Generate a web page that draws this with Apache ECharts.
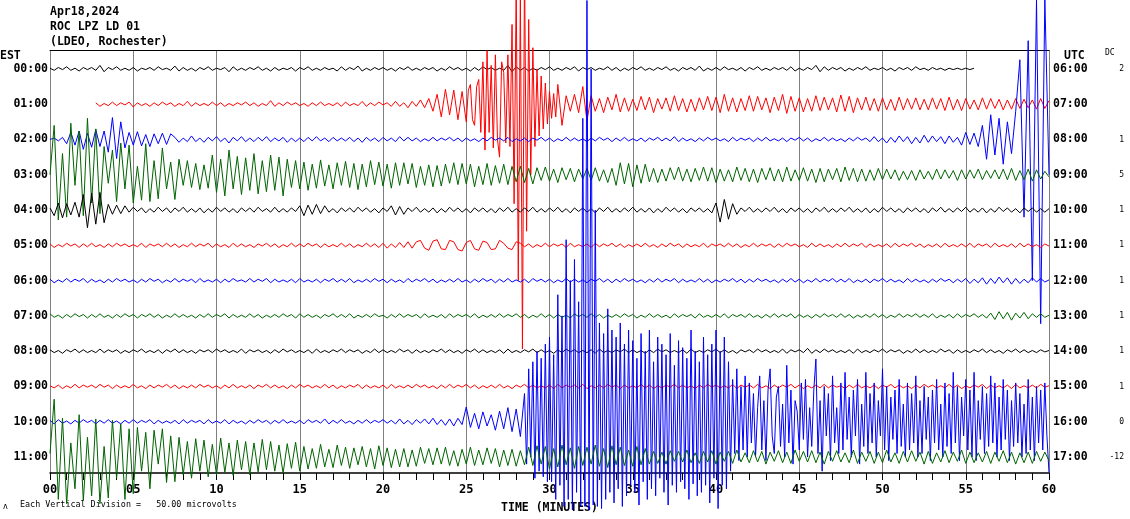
<!DOCTYPE html>
<html><head><meta charset="utf-8">
<script src="https://cdn.jsdelivr.net/npm/echarts@6/dist/echarts.min.js"></script>
<style>html,body{margin:0;padding:0;background:#fff}#c{width:1130px;height:519px}</style>
</head><body><div id="c"></div>
<script>
// ---------------- data ----------------
const titleLines = ["Apr18,2024", "ROC LPZ LD 01", "(LDEO, Rochester)"];
const estLabels = ["00:00","01:00","02:00","03:00","04:00","05:00","06:00","07:00","08:00","09:00","10:00","11:00"];
const utcLabels = ["06:00","07:00","08:00","09:00","10:00","11:00","12:00","13:00","14:00","15:00","16:00","17:00"];
const dcValues = ["2","","1","5","1","1","1","1","1","1","0","-12"];
const minuteLabels = ["00","05","10","15","20","25","30","35","40","45","50","55","60"];
const DIVISION = 50;        // microvolts per vertical division (row spacing)

// amplitudes in microvolts; each segment: [start minute, minutes per sample, samples]
const row00 = [1,-2,2,-1,3,-2,1,-3,2,-1, 2,-2,5,-4,2,-1,3,-2,1,-2, 2,-3,1,-1,2,-2,3,-1,1,-2, 4,-3,2,-2,1,-3,2,-1,3,-2, 1,-1,2,-4,3,-2,1,-2,2,-1, 3,-2,1,-3,2,-2,1,-1,2,-3, 2,-1,3,-2,1,-2,2,-1,1,-3, 3,-2,2,-1,4,-3,1,-2,2,-1, 2,-2,1,-3,2,-1,3,-2,1,-2, 2,-1,2,-3,1,-2,3,-1,2,-2, 1,-3,2,-2,3,-1,2,-2,1,-2, 5,-4,3,-2,2,-3,1,-2,2,-1, 3,-2,1,-2,2,-1,3,-3,2,-1, 2,-2,1,-1,3,-2,2,-3,1,-2, 2,-1,3,-2,1,-2,2,-1,3,-2, 1,-3,2,-1,2,-2,4,-3,1,-2, 2,-2,3,-1,1,-2,2,-3,2,-1, 3,-2,1,-2,2,-1,2,-2,3,-3, 1,-2,2,-1,5,-4,3,-2,2,-1, 2,-3,1,-2,2,-1,3,-2,1,-1, 2,-2,1,-3,2,-1,2,-2,3,-1, 1,-2,2,-1,1,-2,1,-1,1,-1, 1,-1,1];
const row01a = [2,-3,1,-2,3,-2,2,-1,3,-4, 2,-2,1,-3,2,-2,3,-1,2,-3, 1,-2,4,-3,2,-2,1,-2,3,-2, 2,-3,1,-2,2,-1,3,-2,2,-3, 1,-2,5,-3,2,-2,3,-1,2,-2, 1,-3,2,-2,3,-2,1,-2,2,-3, 3,-2,1,-2,4,-3,2,-2,3,-1, 2,-3,4,-3,2,-5,4,-3,
  6,-5,8,-10,14,-18,21,-15,20,-22,18];
const row01b = [-25,20,28,-22,-30,25,35,-40, 60,-65,76,-40,55,-62,70,-50, -75,60,45,-55,70,-60,113,-141, 170,-250,160,-347,200,-180,120,-100, 80,-60,50,-45,40,-35,30,-28, 18,-20,15,-18];
const row01c = [28,-30,12,-10,14,-12,25,-24,
  12,-10,8,-12,10,-8,14,-11,9,-10, 7,-9,11,-8,10,-12,8,-7,9,-10, 12,-9,8,-11,7,-10,9,-8,11,-9, 10,-12,14,-10,9,-11,8,-9,12,-10, 11,-8,9,-12,10,-9,14,-13,11,-10, 9,-11,8,-10,12,-9,10,-8,9,-11, 13,-10,11,-12,9,-8,10,-9,8,-10, 9,-8,7,-9,10,-8,8,-7,9,-8, 7,-8,9,-7,8,-9,10,-8,7,-9, 8,-7,6,-8,9,-7,8,-6,7,-8, 6,-7,8,-6,7,-5,6,-7,8,-6, 5];
const row02 = [0,2,-2,3, -6,10,-8,12,-14,9,-11,14,-10,12, -18,31,-27,25, -12,10,-8,11,-9,7,-10,8,-6,9,-7,8,
  3,-4,2,-3,5,-3,2,-4,3,-2, 4,-3,2,-5,3,-2,4,-3,2,-3, 3,-2,4,-3,2,-2,3,-4,2,-3, 2,-3,3,-2,4,-2,2,-3,3,-2, 2,-2,3,-3,2,-4,3,-2,2,-3, 3,-2,2,-3,4,-2,3,-2,
  2,-3,1,-2,3,-2,2,-1,3,-2, 2,-3,2,-2,1,-3,2,-2,3,-1, 2,-2,3,-3,1,-2,2,-3,2,-1, 3,-2,2,-3,1,-2,3,-2,2,-2, 1,-3,2,-2,3,-1,2,-3,2,-2, 3,-2,1,-2,2,-3,2,-1,3,-2, 2,-2,4,-3,2,-2,1,-3,2,-2, 3,-1,2,-2,1,-3,3,-2,2,-1, 2,-3,2,-2,3,-2,1,-2,2,-3, 2,-1,3,-2,2,-3,1,-2,3,-2, 2,-2,1,-3,2,-2,3,-1,2,-3, 4,-3,2,-5,3,-4,5,-3,4,-6, 3,-5,6,-4,5,-3,4,-6,5,-4,3,
  -8,10,-7,9,-10, 20,-28,35,-22,30,-35,25,-20,40, 113,-110,140,-200,198,-261,200,-50];
const row03 = [0, 70,-64,30,-60,73,-15,62,-58,80,-40,65,-55, 40,-12,35,-38,45,-20,42,-40,12,-36,44,-38,20,-34,38, -20,18,-35,22,-15,20,-18,16,-21,14,-19,
  28,-25,22,-30,35,-20,26,-28,24,-22,30,-27,20,-24,28,-22,25,-30,22,-18,20,
  -20,18,-22,15,-19,21,-16,14,-20,17,-15,19,-18,16,-21,15,-17,20,-14,18,-16,15,-19,17,
  -15,17,-13,16,-18,12,-15,14,-17,13,-16,15,-12,17,-14,16,-13,15,-17,12,-14,16,-15,13,-12,15,-14,12,
  -10,12,-11,9,-13,10,-8,11, -9,8,-11,10,-7,9,-10,8,-6,9,-8,10,-9,7,-11,9, -15,17,-13,16,-17,14,-12,15,
  -10,9,-11,8,-9,10,-7,11,-9,8, -10,9,-8,11,-9,10,-11,8,-9,7, -10,11,-8,9,-10,8,-11,9,-7,10, -9,8,-10,11,-9,7,-8,10,-9,8, -11,9,-10,8,-7,9,-10,11,-8,9, -10,8,-9,7,-8,9,
  -7,8,-6,7,-8,5,-7,6,-8,7, -6,5,-7,8,-6,7,-5,6,-8,7, -6,7,-5,8,-7,6,-5,7,-6,8, -7,9,-8,6,-7,8,-9,7,-6,5, -3];
const row04 = [3,-8,10,-11,9,-7,11,-10, 22,-25,24,-20,25,-18, 8,-6,7,-5,6,
  -3,4,-2,3,-4,2,-3,4,-2,3, -4,3,-2,4,-3,2,-3,3,-4,2, -3,4,-2,3,-3,2,-4,3,-2,3, -3,4,-2,2,-3,4,-3,2,-3,3, -2,
  6,-8,7,-6,8,-5,6, -3,2,-4,3,-2,3,-3,4,-2,3,-3,2,-4,3,-2, 6,-7,5,-6,
  3,-2,4,-3,2,-3,3,-4,2,-3, 4,-2,3,-3,2,-4,3,-2,3,-3, 2,-4,3,-2,4,-3,2,-3,3,-2, 4,-3,2,-3,3,-2,4,-3,2,-4, 3,-2,3,-3,2,-4,3,-2,4,-3, 2,-3,3,-2,4,-3,2,-3,3,-4, 2,-3,4,-2,3,-3,2,-4,3,-2, 3,-3,2,-4,
  10,-17,15,-13,9,-6,
  3,-2,4,-3,2,-3,3,-2,4,-3, 2,-4,3,-2,3,-3,2,-4,3,-2, 4,-3,2,-3,3,-2,4,-3,2,-3, 3,-4,2,-3,4,-2,3,-3,2,-4, 3,-2,3,-3,2,-4,3,-2,4,-3, 2,-3,3,-2,4,-3,2,-3,3,-4, 2,-3,4,-2,3,-3,2,-4,3,-2, 3,-3,2,-3,2];
const row05 = [2,-3,1,-2,3,-1,2,-3,2,-2, 3,-2,1,-3,2,-2,3,-1,2,-2, 1,-2,3,-3,2,-1,2,-2,3,-2, 2,-3,1,-2,3,-2,2,-1,3,-3, 2,-2,1,-3,3,-2,2,-2,1,-3, 2,-1,3,-2,2,-3,1,-2,3,-2, 2,-2,3,-1,2,-3,2,-2,1,-2, 3,-2,2,-3,1,-2,3,-2,2,-3, 3,-4,2,-3,4,-3,5,-4,
  5,7,-4,-7,6,8,-5,-6,7,5,-6,-8,4,7,-5,-7,6,4,-6,-5,7,3,-4,-6,5,
  3,-2,2,-3,1,-2,3,-2,2,-1, 2,-3,3,-2,1,-2,2,-3,3,-2, 2,-1,3,-2,2,-3,1,-2,2,-2, 3,-2,1,-3,2,-2,3,-1,2,-3, 2,-2,1,-2,3,-3,2,-1,2,-2, 3,-2,2,-3,1,-2,3,-2,2,-1, 2,-3,2,-2,3,-1,2,-2,1,-3, 3,-2,2,-2,1,-3,2,-2,3,-2, 2,-1,3,-3,2,-2,1,-2,2,-3, 3,-2,2,-1,3,-2,2,-3,1,-2, 2,-3,3,-2,1,-2,2,-2,3,-3, 2,-1,2,-3,3,-2,1,-2,2,-3, 3,-2,2,-2,1,-3,2,-1];
const row06 = [2,-3,1,-2,3,-2,2,-1,3,-3, 2,-2,1,-3,2,-2,3,-1,2,-2, 1,-3,2,-2,3,-1,2,-3,1,-2, 3,-2,2,-1,2,-3,3,-2,1,-2, 2,-3,2,-2,3,-1,1,-2,3,-2, 2,-1,3,-3,2,-2,1,-2,2,-3, 3,-2,1,-2,2,-3,2,-1,3,-2, 2,-2,3,-3,1,-2,2,-2,3,-1, 2,-3,2,-2,1,-3,3,-2,2,-1, 3,-2,2,-3,1,-2,2,-2,3,-2, 1,-3,2,-2,3,-1,2,-3,2,-2, 3,-2,1,-2,2,-3,3,-1,2,-2, 2,-3,1,-2,3,-2,2,-2,1,-3, 2,-1,3,-2,2,-3,2,-2,3,-1, 2,-2,1,-3,2,-2,3,-2,2,-1, 3,-3,2,-2,1,-2,3,-2,2,-3, 1,-2,2,-1,3,-2,2,-3,2,-2, 3,-1,2,-2,1,-3,2,-2,3,-2, 2,-3,1,-2,3,-2,2,-1,3,-2, 2,-2,3,-3,1,-2,2,-3,2,-1, 3,-2,2,-2,1,-3,3,-2,2,-2, 1,-3,2,-2,3,-1,2,-3,2,-2, 3,-4,2,-3,4,-5,3,-4,5,-3, 4,-5,3,-4,2,-3,4,-2,3,-2, 1];
const row07 = [3,-2,1,-3,2,-2,3,-1,2,-3, 2,-2,3,-2,1,-3,2,-2,3,-1, 2,-3,2,-1,3,-2,2,-3,1,-2, 3,-2,2,-2,1,-3,2,-2,3,-2, 2,-1,3,-3,2,-2,1,-2,3,-2, 2,-3,1,-2,2,-2,3,-1,2,-3, 3,-2,2,-2,1,-3,2,-1,3,-2, 2,-2,3,-3,1,-2,2,-2,3,-1, 1,-3,2,-2,3,-2,2,-1,2,-3, 3,-2,1,-2,2,-3,3,-2,2,-1, 2,-2,3,-3,1,-2,2,-2,3,-2, 2,-1,3,-2,2,-3,1,-2,3,-2, 2,-3,2,-2,1,-3,3,-1,2,-2, 3,-2,2,-3,1,-2,2,-2,3,-1, 2,-3,1,-2,3,-2,2,-2,1,-3, 3,-2,2,-1,2,-3,3,-2,1,-2, 2,-2,3,-3,2,-1,2,-2,3,-2, 1,-3,2,-2,3,-2,2,-1,3,-3, 2,-2,1,-3,2,-2,3,-1,2,-2, 3,-2,2,-3,1,-2,2,-2,3,-2, 2,-3,1,-2,3,-2,2,-1,3,-2, 2,-2,3,-3,1,-2,2,-3,3,-2, 2,-1,3,-2,2,-3,4,-5,6,-4, 5,-6,4,-3,5,-4,3,-2,3,-2, 1];
const row08 = [2,-2,1,-3,2,-1,3,-2,2,-2, 1,-2,3,-2,2,-1,2,-3,1,-2, 2,-1,3,-2,1,-2,2,-3,2,-1, 3,-2,2,-2,1,-3,2,-1,2,-2, 3,-1,2,-2,1,-2,3,-3,2,-1, 2,-2,1,-3,2,-2,3,-1,2,-2, 1,-2,2,-3,3,-2,1,-2,2,-1, 3,-2,2,-1,2,-3,1,-2,3,-2, 2,-2,1,-2,3,-1,2,-3,2,-2, 1,-2,2,-1,3,-2,2,-2,1,-3, 2,-1,3,-2,2,-2,1,-2,2,-3, 3,-2,1,-2,2,-1,3,-2,2,-2, 1,-3,2,-2,3,-1,2,-2,1,-2, 2,-3,3,-2,1,-2,2,-1,3,-2, 2,-2,1,-3,2,-2,3,-1,2,-2, 1,-2,2,-3,3,-2,1,-2,2,-1, 3,-2,2,-2,1,-3,2,-1,2,-2, 3,-1,2,-2,1,-2,3,-3,2,-1, 2,-2,4,-3,2,-2,3,-1,2,-2, 1,-2,2,-3,3,-2,1,-2,2,-1, 3,-2,2,-1,2,-3,1,-2,3,-2, 2,-2,1,-2,3,-1,2,-3,2,-2, 1,-2,2,-1,3,-2,2,-2,1,-3, 2,-1,3,-2,2,-2,1,-2,2,-1, 1];
const row09 = [1,-2,2,-3,1,-2,3,-2,2,-1, 2,-2,3,-1,2,-3,2,-2,1,-2, 3,-2,1,-3,2,-2,2,-1,3,-2, 2,-3,1,-2,2,-2,3,-1,2,-2, 1,-3,2,-2,3,-2,1,-2,2,-3, 2,-1,3,-2,2,-2,1,-3,2,-2, 3,-1,2,-2,1,-2,3,-2,2,-3, 1,-2,2,-1,3,-3,2,-2,1,-2, 2,-3,3,-2,1,-2,2,-2,3,-1, 2,-2,1,-3,2,-2,3,-2,2,-1, 3,-2,2,-3,1,-2,2,-2,3,-2, 1,-3,2,-1,3,-2,2,-2,1,-2, 2,-3,3,-2,2,-1,2,-2,3,-3, 1,-2,2,-2,3,-1,2,-3,2,-2, 1,-2,3,-2,2,-3,1,-2,2,-1, 3,-2,2,-2,1,-3,2,-2,3,-1, 2,-2,1,-2,3,-3,2,-1,2,-2, 3,-2,1,-3,2,-2,2,-1,3,-2, 2,-3,1,-2,2,-2,3,-2,2,-1, 1,-3,2,-2,3,-2,1,-2,2,-3, 2,-1,3,-2,2,-2,1,-3,2,-2, 3,-1,2,-2,1,-2,3,-2,2,-3, 1,-2,2,-1,3,-3,2,-2,1,-2, 2,-3,3,-2,1,-2,2,-2,3,-1, 1];
const row10a = [2,-3,3,-2,1,-3,2,-2,3,-1, 2,-3,2,-2,3,-2,1,-3,2,-2, 3,-2,2,-1,3,-3,2,-2,1,-2, 2,-3,3,-2,2,-1,2,-3,3,-2, 1,-2,3,-3,2,-2,1,-3,2,-2, 3,-1,2,-3,2,-2,3,-2,1,-2, 2,-3,3,-1,2,-2,4,-3,2,-2, 3,-2,1,-3,2,-2,3,-2,2,-1, 3,-2,2,-3,4,-3,2,-4,3,-2, 4,-3,5,-4,3,-5,4,-6,5,-4,
  21,-8,12,-10,14,-6,10,-12,15,-10,20,-14,18,-21];
const row10b = [40,-60,75,-50,85,-80,100,-70,90,-78,110,-85,
  120,-85,95,-110,180,-90,150,-120, 258,-110,200,-125,230,-100,170,-120, 430,-120,597,-125,500,-118,300,-120, 140,-123,125,-110,160,-100,130,-115,
  120,-95,140,-120,110,-105,130,-90, 115,-100,90,-118,125,-85,100,-110, 130,-95,85,-105,120,-80,110,-100, 95,-118,125,-90,80,-100,115,-85,
  105,-95,90,-110,130,-88,100,-105, 85,-100,120,-90,95,-115,110,-80, 130,-123,100,-90,120,-95,85,-70, 60,-45,75,-55,50,-40,65,-50,
  55,-30,40,-50,20,65,-40,30, -55,45,75,-20,-45,35,50,-35, 25,-50,80,-30,45,-60,30,15, -40,55,-25,60,-50,20,-35,45,
  89,-45,30,-70,50,-20,40,-55, 65,-30,20,-45,55,-40,70,-25, 35,-50,45,-20,60,-60,25,-35, 70,-45,40,-30,55,-50,30,-20,
  75,-40,50,-55,35,-25,45,-45, 60,-35,25,-50,55,-40,40,-30, 65,-50,30,-45,50,-25,35,-55, 45,-30,60,-40,25,-50,55,-35,
  40,-45,70,-30,50,-55,35,-20, 60,-40,45,-50,70,-55,30,-25, 50,-45,40,-35,65,-30,55,-50, 35,-40,60,-25,45,-55,30,-35,
  55,-30,40,-50,25,-45,60,-40, 35,-55,50,-30,45,-40,55,-20, -72];
const row11 = [5,82,-60, 55,-66,20,-45,60,-62,28,-55,54,-66,15,-58,52,-30,47,-60,40,-52, 42,-20,35,-45,38,-10,40,-36,30,-35,
  28,-25,22,-30,26,-20,24,-28,18,-25,27,-22,20,-26,24,-18,22,-25,20,-21,25,-18,22,-20,17,-23,19,-16,21,-20,
  15,-17,12,-16,18,-14,11,-15,17,-12,14,-16,13,-11,15,-14,12,-17,16,-12,13,-15,11,-14,
  12,-14,10,-13,14,-9,12,-11,13,-10,14,-12,9,-13,11,-10,14,-12,10,-11,13,-9,12,-14,10,-12,11,-13,9,-11,
  14,-12,16,-10,15,-17,12,-14,17,-11,13,-16,15,-12,14,-10,17,-13,12,-15,16,-11,14,-12,10,-13,15,-11,12,-10,
  8,-9,7,-10,9,-6,8,-7,10,-8, 6,-9,8,-7,9,-10,7,-6,8,-9, 10,-7,6,-8,9,-7,8,-10,7,-6, 9,-8,7,-9,10,-6,8,-7,9,-8, 7,-10,8,-6,9,-7,6,-8,10,-9, 7,-6,8,-9,7,-8,10,-7,6,-9, 8,-7,9,-6,7,-10,8,-9,6,-7, 9,-8,7,-6,10,-9,7,-8,6,-7, 8,-9,7,-6,9,-8,7,-10,6,-8, 7,-9,8,-6,7,-5];

const rowSegments = [
  [[0, 0.25, row00]],
  [[2.75, 0.25, row01a], [25, 0.125, row01b], [30.5, 0.25, row01c]],
  [[0, 0.25, row02]],
  [[0, 0.25, row03]],
  [[0, 0.25, row04]],
  [[0, 0.25, row05]],
  [[0, 0.25, row06]],
  [[0, 0.25, row07]],
  [[0, 0.25, row08]],
  [[0, 0.25, row09]],
  [[0, 0.25, row10a], [28.5, 0.125, row10b]],
  [[0, 0.25, row11]]
];

// ---------------- chart ----------------
const traceColors = ['#000000', '#ff0000', '#0000ff', '#006400'];
const MONO = '"DejaVu Sans Mono", "Liberation Mono", monospace';
const Y_MAX = 26.8, Y_MIN = -DIVISION * 11 - 22.6;
const rowValues = rowSegments.map((_, i) => -DIVISION * i);

const series = rowSegments.map((segs, i) => {
  const data = [];
  segs.forEach(([t0, dt, arr]) => arr.forEach((v, k) => data.push([t0 + k * dt, -DIVISION * i + v])));
  return {
    type: 'line', data: data,
    showSymbol: false, symbol: 'none', clip: false, silent: true,
    lineStyle: { width: 1, color: traceColors[i % 4] },
    animation: false
  };
});

const baseLabel = { fontFamily: MONO, fontWeight: 'bold', fontSize: 11.5, color: '#000' };

const chart = echarts.init(document.getElementById('c'), null, { renderer: 'canvas' });
chart.setOption({
  animation: false,
  backgroundColor: '#ffffff',
  grid: { left: 50, right: 81, top: 50, bottom: 44, containLabel: false },
  xAxis: [{
    type: 'value', min: 0, max: 60, interval: 5, position: 'bottom',
    axisLine: { show: true, onZero: false, lineStyle: { color: '#000', width: 1.5 } },
    axisTick: { show: true, length: 7, lineStyle: { color: '#000' } },
    minorTick: { show: true, splitNumber: 5, length: 7, lineStyle: { color: '#000' } },
    splitLine: { show: true, lineStyle: { color: '#808080', width: 1 } },
    axisLabel: { margin: 11, fontSize: 12, fontFamily: MONO, fontWeight: 'bold', color: '#000',
      formatter: v => minuteLabels[Math.round(v / 5)] },
    name: 'TIME (MINUTES)', nameLocation: 'middle', nameGap: 29,
    nameTextStyle: baseLabel
  }, {
    type: 'value', min: 0, max: 60, position: 'top',
    axisLine: { show: true, onZero: false, lineStyle: { color: '#000', width: 1 } },
    axisTick: { show: false }, axisLabel: { show: false }, splitLine: { show: false }
  }],
  yAxis: [{
    type: 'value', min: Y_MIN, max: Y_MAX, position: 'left',
    axisLine: { show: false }, axisTick: { show: false }, splitLine: { show: false },
    axisLabel: Object.assign({ customValues: rowValues, margin: 2, formatter: v => estLabels[Math.round(-v / DIVISION)] }, baseLabel)
  }, {
    type: 'value', min: Y_MIN, max: Y_MAX, position: 'right',
    axisLine: { show: false }, axisTick: { show: false }, splitLine: { show: false },
    axisLabel: Object.assign({ customValues: rowValues, margin: 4, formatter: v => utcLabels[Math.round(-v / DIVISION)] }, baseLabel)
  }, {
    type: 'value', min: Y_MIN, max: Y_MAX, position: 'right', offset: 75,
    axisLine: { show: false }, axisTick: { show: false }, splitLine: { show: false },
    axisLabel: { customValues: rowValues, margin: 0, align: 'right', fontFamily: MONO, fontSize: 8, color: '#000',
      formatter: v => dcValues[Math.round(-v / DIVISION)] }
  }],
  graphic: [
    { type: 'text', x: 50, y: 5, style: { text: titleLines.join('\n'), font: 'bold 11.5px ' + MONO, lineHeight: 15, fill: '#000' } },
    { type: 'text', x: 0, y: 56, style: { text: 'EST', font: 'bold 11.5px ' + MONO, fill: '#000', verticalAlign: 'middle' } },
    { type: 'text', x: 1064, y: 56, style: { text: 'UTC', font: 'bold 11.5px ' + MONO, fill: '#000', verticalAlign: 'middle' } },
    { type: 'text', x: 1105, y: 53, style: { text: 'DC', font: '8px ' + MONO, fill: '#000', verticalAlign: 'middle' } },
    { type: 'text', x: 3, y: 507, style: { text: 'ʌ', font: '8px ' + MONO, fill: '#000', verticalAlign: 'middle' } },
    { type: 'text', x: 20, y: 505, style: { text: 'Each Vertical Division =   ' + DIVISION.toFixed(2) + ' microvolts', font: '8.4px ' + MONO, fill: '#000', verticalAlign: 'middle' } }
  ],
  series: series
});
</script>
</body></html>
